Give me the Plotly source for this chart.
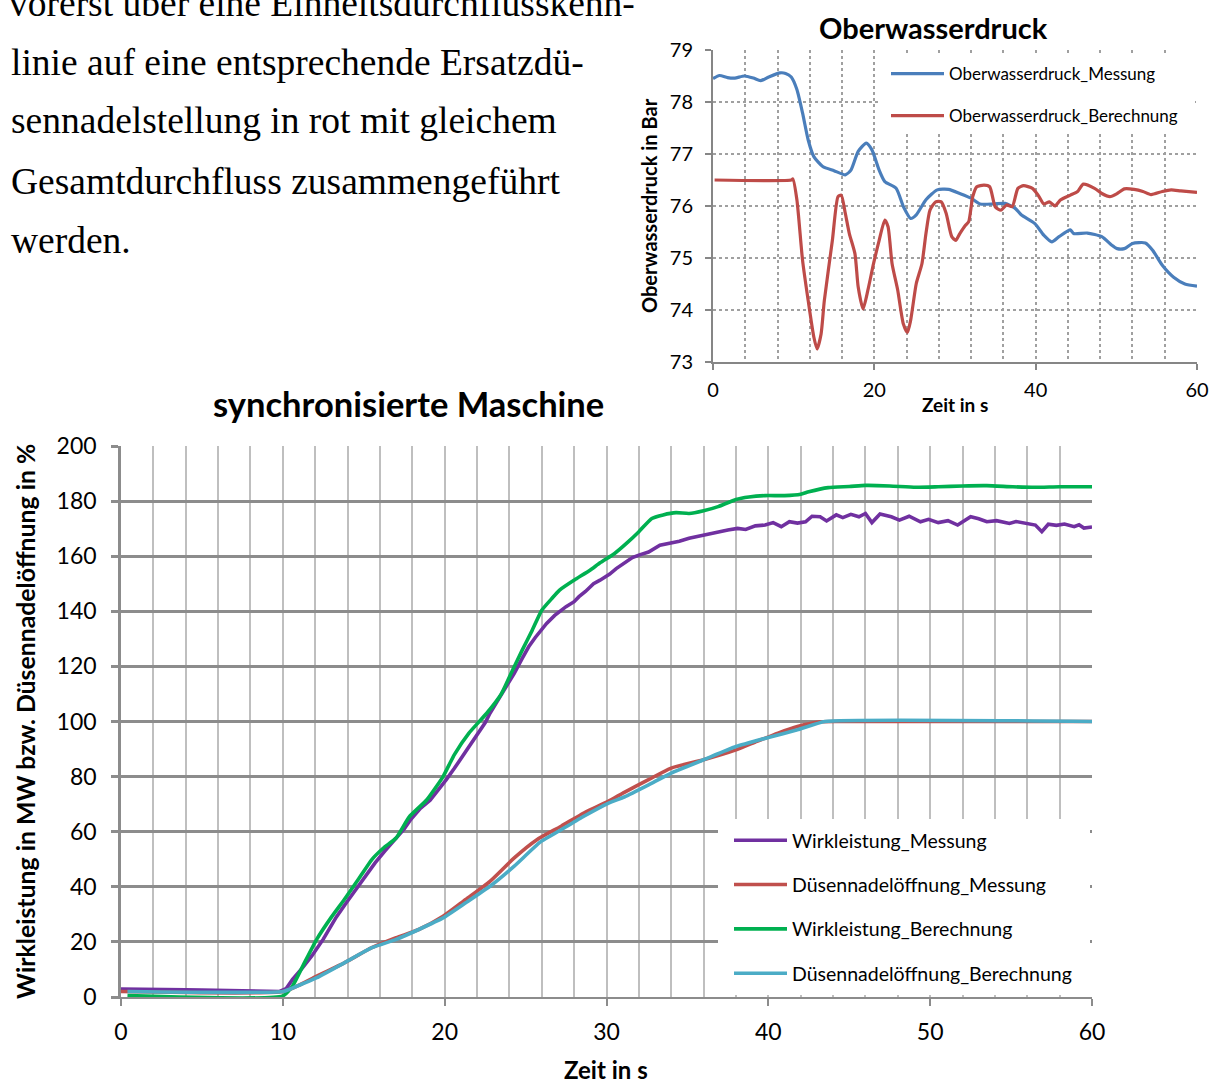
import plotly.graph_objects as go

W, H = 1217, 1084

# ---------------- page text (left column) ----------------
text_lines = [
    "vorerst über eine Einheitsdurchflusskenn-",
    "linie auf eine entsprechende Ersatzdü-",
    "sennadelstellung in rot mit gleichem",
    "Gesamtdurchfluss zusammengeführt",
    "werden.",
]

# ---------------- Oberwasserdruck (top chart) ----------------
ow_mess_t = [0, 0.8, 1.8, 2.7, 3.9, 5.0, 5.9, 6.9, 8.3, 9.0, 9.7, 10.4, 11.1, 11.8,
             12.5, 13.6, 15.0, 16.4, 17.1, 18.0, 19.0, 19.7, 20.6, 21.3, 22.7, 23.6,
             24.5, 25.2, 26.4, 27.8, 29.2, 30.6, 32.0, 33.1, 34.8, 36.2, 37.5, 38.2,
             39.9, 41.0, 42.0, 42.9, 44.3, 44.7, 46.4, 48.2, 49.4, 50.1, 51.0, 52.0,
             53.6, 54.5, 55.7, 57.1, 58.5, 60.0]
ow_mess_v = [78.45, 78.51, 78.47, 78.46, 78.50, 78.46, 78.41, 78.48, 78.56, 78.55,
             78.48, 78.24, 77.79, 77.27, 76.95, 76.76, 76.68, 76.60, 76.69, 77.05,
             77.21, 77.08, 76.69, 76.47, 76.34, 75.99, 75.76, 75.83, 76.12, 76.31,
             76.32, 76.24, 76.15, 76.04, 76.04, 76.05, 75.95, 75.83, 75.66, 75.44,
             75.31, 75.41, 75.54, 75.47, 75.48, 75.41, 75.25, 75.18, 75.18, 75.28,
             75.29, 75.15, 74.86, 74.63, 74.50, 74.46]

ow_ber_t = [0.2, 9.7, 9.9, 10.4, 11.1, 11.8, 12.5, 12.9, 13.4, 13.8, 14.8, 15.5, 15.9,
            16.4, 16.9, 17.6, 18.0, 18.6, 19.2, 19.9, 20.6, 21.3, 21.7, 22.2, 22.9,
            23.6, 24.1, 24.5, 25.2, 25.9, 26.4, 26.9, 27.6, 28.3, 28.9, 29.6, 30.1,
            30.6, 31.3, 31.7, 32.2, 32.7, 33.6, 34.3, 35.0, 35.7, 36.4, 37.1, 37.8,
            38.5, 39.6, 40.3, 41.0, 41.7, 42.4, 43.1, 44.3, 45.2, 45.9, 47.3, 48.2,
            49.2, 50.1, 51.0, 52.2, 53.3, 54.3, 55.7, 56.8, 58.0, 60.0]
ow_ber_v = [76.50, 76.50, 76.52, 76.12, 74.96, 74.18, 73.48, 73.25, 73.54, 74.18,
            75.34, 76.18, 76.21, 75.86, 75.47, 75.08, 74.44, 74.02, 74.38, 74.89,
            75.34, 75.73, 75.60, 74.89, 74.38, 73.73, 73.57, 73.80, 74.51, 74.89,
            75.47, 75.92, 76.08, 76.08, 75.86, 75.41, 75.34, 75.47, 75.63, 75.70,
            76.18, 76.37, 76.40, 76.37, 75.98, 75.92, 76.02, 75.99, 76.34, 76.39,
            76.34, 76.21, 76.04, 76.08, 76.00, 76.12, 76.21, 76.28, 76.42, 76.34,
            76.24, 76.18, 76.24, 76.33, 76.32, 76.28, 76.22, 76.28, 76.31, 76.29,
            76.26]

ow_y_ticks = [73, 74, 75, 76, 77, 78, 79]
ow_x_ticks = [0, 20, 40, 60]

# ---------------- synchronisierte Maschine (bottom chart) ----------------
wl_mess_t = [0, 1, 2, 3, 4, 5, 6, 7, 8, 9, 9.8, 10.2, 10.6, 11.2, 11.8, 12.5, 13.3,
             13.9, 14.5, 15.1, 15.7, 16.3, 17.0, 17.5, 17.9, 18.5, 19.1, 19.6, 20.1,
             20.6, 21.1, 21.6, 22.1, 22.5, 22.8, 23.3, 23.8, 24.3, 24.8, 25.2, 25.6,
             26.0, 26.3, 26.8, 27.5, 28.0, 28.3, 28.7, 29.2, 29.6, 30.2, 30.6, 31.1,
             31.6, 32.0, 32.6, 33.3, 33.8, 34.5, 35.1, 35.7, 36.3, 36.9, 37.5, 38.1,
             38.6, 39.2, 39.8, 40.3, 40.8, 41.3, 41.8, 42.3, 42.7, 43.2, 43.6, 44.2,
             44.6, 45.1, 45.6, 46.0, 46.4, 46.9, 47.6, 48.1, 48.7, 49.4, 49.9, 50.5,
             51.1, 51.7, 52.1, 52.5, 53.0, 53.5, 54.1, 54.5, 54.9, 55.3, 55.7, 56.1,
             56.5, 56.9, 57.3, 57.8, 58.3, 58.9, 59.2, 59.5, 60.0]
wl_mess_v = [2.9, 2.9, 2.8, 2.7, 2.6, 2.5, 2.4, 2.3, 2.2, 2.1, 2.0, 3.0, 6.4, 10.5,
             15.0, 21.0, 29.0, 34.0, 39.0, 44.0, 48.7, 53.0, 57.5, 61.0, 64.4, 68.5,
             71.4, 75.0, 78.9, 83.0, 87.3, 91.5, 95.8, 99.5, 103.0, 107.7, 113.0,
             117.5, 123.0, 127.2, 130.5, 133.5, 135.6, 138.5, 141.7, 143.5, 145.3,
             147.2, 150.0, 151.3, 153.5, 155.5, 157.6, 159.5, 160.4, 161.5, 164.0,
             164.5, 165.4, 166.5, 167.3, 168.0, 168.9, 169.5, 170.1, 169.7, 171.0,
             171.3, 172.2, 170.7, 172.5, 172.0, 172.5, 174.5, 174.3, 172.8, 175.0,
             174.0, 175.2, 174.3, 175.5, 172.2, 175.3, 174.3, 173.1, 174.5, 172.5,
             173.4, 172.2, 172.9, 171.3, 172.8, 174.3, 173.6, 172.5, 172.9, 172.4,
             171.9, 172.6, 172.2, 171.8, 171.3, 168.9, 171.6, 171.2, 171.7, 170.7,
             171.4, 170.2, 170.6]

dn_mess_t = [0, 10.0, 10.9, 12.1, 13.8, 15.5, 17.0, 18.4, 19.9, 21.3, 22.8, 24.3,
             25.7, 27.2, 28.6, 30.1, 31.1, 32.6, 34.0, 36.0, 38.0, 39.3, 40.6, 41.8,
             43.2, 45.0, 60.0]
dn_mess_v = [2.0, 2.0, 4.0, 7.6, 12.4, 17.9, 21.5, 24.5, 29.3, 35.4, 42.0, 50.5,
             57.1, 62.0, 66.8, 71.0, 74.3, 78.9, 83.1, 86.1, 89.7, 92.8, 95.8, 98.2,
             99.9, 100.0, 100.0]

wl_ber_t = [0.4, 10.0, 10.6, 11.3, 12.1, 13.0, 13.8, 14.7, 15.5, 16.2, 17.0, 17.8,
            18.9, 19.9, 20.6, 21.5, 22.6, 23.5, 24.2, 24.8, 25.4, 26.0, 26.6, 27.1,
            28.0, 29.0, 29.6, 30.5, 31.3, 32.0, 32.8, 33.5, 34.3, 35.1, 36.0, 36.9,
            38.0, 38.8, 39.8, 41.0, 42.0, 42.5, 43.7, 45.0, 46.0, 47.5, 49.1, 50.5,
            52.0, 53.5, 55.1, 56.5, 58.0, 60.0]
wl_ber_v = [0.5, 0.4, 4.0, 12.0, 21.0, 29.0, 35.4, 43.0, 49.9, 54.0, 57.7, 65.3,
            71.6, 80.0, 88.0, 95.8, 103.0, 110.0, 118.7, 126.0, 133.0, 140.4, 144.5,
            147.7, 151.3, 155.0, 157.6, 161.0, 165.0, 168.9, 173.7, 175.0, 175.8,
            175.5, 176.5, 178.0, 180.6, 181.5, 182.0, 182.0, 182.5, 183.4, 184.9,
            185.3, 185.7, 185.5, 185.0, 185.2, 185.5, 185.6, 185.2, 185.0, 185.2,
            185.2]

dn_ber_t = [0.4, 10.0, 10.9, 12.1, 13.8, 15.5, 17.0, 18.4, 19.9, 21.3, 22.8, 24.3,
            25.9, 27.2, 28.6, 30.1, 31.1, 32.6, 34.0, 36.0, 38.0, 40.0, 41.8, 43.5,
            60.0]
dn_ber_v = [2.0, 2.0, 4.0, 7.0, 12.4, 17.9, 20.9, 24.5, 28.7, 34.2, 40.2, 47.5,
            56.2, 60.7, 65.6, 70.3, 72.6, 77.0, 81.3, 86.1, 90.9, 94.2, 97.0, 100.0,
            100.0]

sm_y_ticks = [0, 20, 40, 60, 80, 100, 120, 140, 160, 180, 200]
sm_x_ticks = [0, 10, 20, 30, 40, 50, 60]

# ---------------- colours / fonts ----------------
C_PURPLE = "#7030A0"
C_RED = "#C0504D"
C_GREEN = "#00B050"
C_CYAN = "#4BACC6"
C_BLUE = "#4A7EBB"
C_RED2 = "#BE4B48"
GRID_DARK = "#8C8C8C"
GRID_LIGHT = "#BFBFBF"
SANS = "Lato, 'Open Sans', sans-serif"
SERIF = "'Liberation Serif', 'DejaVu Serif', serif"
TEXT_SIZE = 37.5
LW = 3.6


def px(x):
    return x / W


def py(y):
    return 1 - y / H


fig = go.Figure()

# bottom chart traces
fig.add_trace(go.Scatter(x=wl_mess_t, y=wl_mess_v, mode="lines", name="Wirkleistung_Messung",
                         line=dict(color=C_PURPLE, width=LW), legendgroup="a",
                         xaxis="x", yaxis="y", legend="legend"))
fig.add_trace(go.Scatter(x=dn_mess_t, y=dn_mess_v, mode="lines", name="Düsennadelöffnung_Messung",
                         line=dict(color=C_RED, width=LW, shape="spline", smoothing=0.6),
                         legendgroup="b", xaxis="x", yaxis="y", legend="legend"))
fig.add_trace(go.Scatter(x=wl_ber_t, y=wl_ber_v, mode="lines", name="Wirkleistung_Berechnung",
                         line=dict(color=C_GREEN, width=LW, shape="spline", smoothing=0.5),
                         legendgroup="c", xaxis="x", yaxis="y", legend="legend"))
fig.add_trace(go.Scatter(x=dn_ber_t, y=dn_ber_v, mode="lines", name="Düsennadelöffnung_Berechnung",
                         line=dict(color=C_CYAN, width=LW, shape="spline", smoothing=0.4),
                         legendgroup="d", xaxis="x", yaxis="y", legend="legend"))

# top chart traces
fig.add_trace(go.Scatter(x=ow_mess_t, y=ow_mess_v, mode="lines", name="Oberwasserdruck_Messung",
                         line=dict(color=C_BLUE, width=3.2, shape="spline", smoothing=0.6),
                         legendgroup="e", xaxis="x2", yaxis="y2", legend="legend2"))
fig.add_trace(go.Scatter(x=ow_ber_t, y=ow_ber_v, mode="lines", name="Oberwasserdruck_Berechnung",
                         line=dict(color=C_RED2, width=3.2, shape="spline", smoothing=0.6),
                         legendgroup="f", xaxis="x2", yaxis="y2", legend="legend2"))

axis_common = dict(showline=True, zeroline=False, ticks="outside", mirror=False,
                   automargin=False)

fig.update_layout(
    width=W, height=H,
    margin=dict(l=0, r=0, t=0, b=0, autoexpand=False),
    paper_bgcolor="white", plot_bgcolor="white",
    font=dict(family=SANS, color="#000000"),
    # first (cut) line of the paragraph sits at the very top edge of the page
    title=dict(text=text_lines[0], x=px(9), xanchor="left", xref="paper",
               y=1 - 3 / H, yanchor="middle", yref="container", automargin=False,
               font=dict(family=SERIF, size=TEXT_SIZE, color="#000000")),
    # bottom chart axes
    xaxis=dict(domain=[px(121), px(1092)], range=[0, 60], tickvals=sm_x_ticks,
               showgrid=True, gridcolor=GRID_LIGHT, gridwidth=2,
               minor=dict(dtick=2, showgrid=True, gridcolor=GRID_LIGHT, gridwidth=2),
               linecolor=GRID_DARK, linewidth=2, tickcolor=GRID_DARK, tickwidth=2, ticklen=7,
               tickfont=dict(size=23, family=SANS), ticklabelstandoff=6,
               anchor="y", **axis_common),
    yaxis=dict(domain=[py(997), py(446)], range=[0, 200], tickvals=sm_y_ticks,
               showgrid=True, gridcolor=GRID_DARK, gridwidth=2.5,
               linecolor=GRID_DARK, linewidth=2.5, tickcolor=GRID_DARK, tickwidth=2.5, ticklen=7,
               tickfont=dict(size=23, family=SANS), ticklabelstandoff=10,
               anchor="x", **axis_common),
    # top chart axes
    xaxis2=dict(domain=[px(713), px(1197)], range=[0, 60], tickvals=ow_x_ticks,
                showgrid=True, gridcolor="#A0A0A0", gridwidth=1.5, griddash="dot",
                minor=dict(dtick=4, showgrid=True, gridcolor="#A0A0A0", gridwidth=1.5,
                           griddash="dot"),
                linecolor="#868686", linewidth=2, tickcolor="#868686", tickwidth=2, ticklen=6,
                tickfont=dict(size=20, family=SANS), ticklabelstandoff=3,
                anchor="y2", **axis_common),
    yaxis2=dict(domain=[py(362), py(50)], range=[73, 79], tickvals=ow_y_ticks,
                showgrid=True, gridcolor="#A0A0A0", gridwidth=1.5, griddash="dot",
                linecolor="#868686", linewidth=2, tickcolor="#868686", tickwidth=2, ticklen=6,
                tickfont=dict(size=20, family=SANS), ticklabelstandoff=8,
                anchor="x2", **axis_common),
    legend=dict(x=px(729), y=py(821), xanchor="left", yanchor="top",
                bgcolor="rgba(0,0,0,0)", font=dict(size=19.5, family=SANS),
                tracegroupgap=16, itemwidth=53),
    legend2=dict(x=px(886), y=py(56), xanchor="left", yanchor="top",
                 bgcolor="rgba(0,0,0,0)", font=dict(size=17, family=SANS),
                 tracegroupgap=17, itemwidth=53),
    showlegend=True,
)

# white backgrounds behind the two legends (they hide the grid there)
fig.add_shape(type="rect", xref="paper", yref="paper",
              x0=px(718), x1=px(1090), y0=py(995), y1=py(819),
              fillcolor="white", line=dict(width=0), layer="above")
fig.add_shape(type="rect", xref="paper", yref="paper",
              x0=px(880), x1=px(1195), y0=py(133), y1=py(53),
              fillcolor="white", line=dict(width=0), layer="above")

annotations = []
# remaining paragraph lines
line_y = [62, 121, 181, 240]
for txt, yy in zip(text_lines[1:], line_y):
    annotations.append(dict(text=txt, x=px(9), y=py(yy), xref="paper", yref="paper",
                            xanchor="left", yanchor="middle", showarrow=False,
                            font=dict(family=SERIF, size=TEXT_SIZE, color="#000000")))
# chart titles and axis titles
annotations += [
    dict(text="<b>Oberwasserdruck</b>", x=px(933), y=py(27), xanchor="center", yanchor="middle",
         font=dict(size=29, family=SANS)),
    dict(text="<b>Oberwasserdruck in Bar</b>", x=px(649), y=py(206), textangle=-90,
         xanchor="center", yanchor="middle", font=dict(size=20, family=SANS)),
    dict(text="<b>Zeit in s</b>", x=px(955), y=py(404), xanchor="center", yanchor="middle",
         font=dict(size=19, family=SANS)),
    dict(text="<b>synchronisierte Maschine</b>", x=px(408), y=py(403), xanchor="center",
         yanchor="middle", font=dict(size=34.5, family=SANS)),
    dict(text="<b>Wirkleistung in MW bzw. Düsennadelöffnung in %</b>", x=px(25), y=py(722),
         textangle=-90, xanchor="center", yanchor="middle", font=dict(size=24.8, family=SANS)),
    dict(text="<b>Zeit in s</b>", x=px(606), y=0, xanchor="center", yanchor="bottom",
         yshift=-2, font=dict(size=24, family=SANS)),
]
for a in annotations[len(text_lines) - 1:]:
    a.update(xref="paper", yref="paper", showarrow=False)
fig.update_layout(annotations=annotations)

fig.write_html("out.html")
